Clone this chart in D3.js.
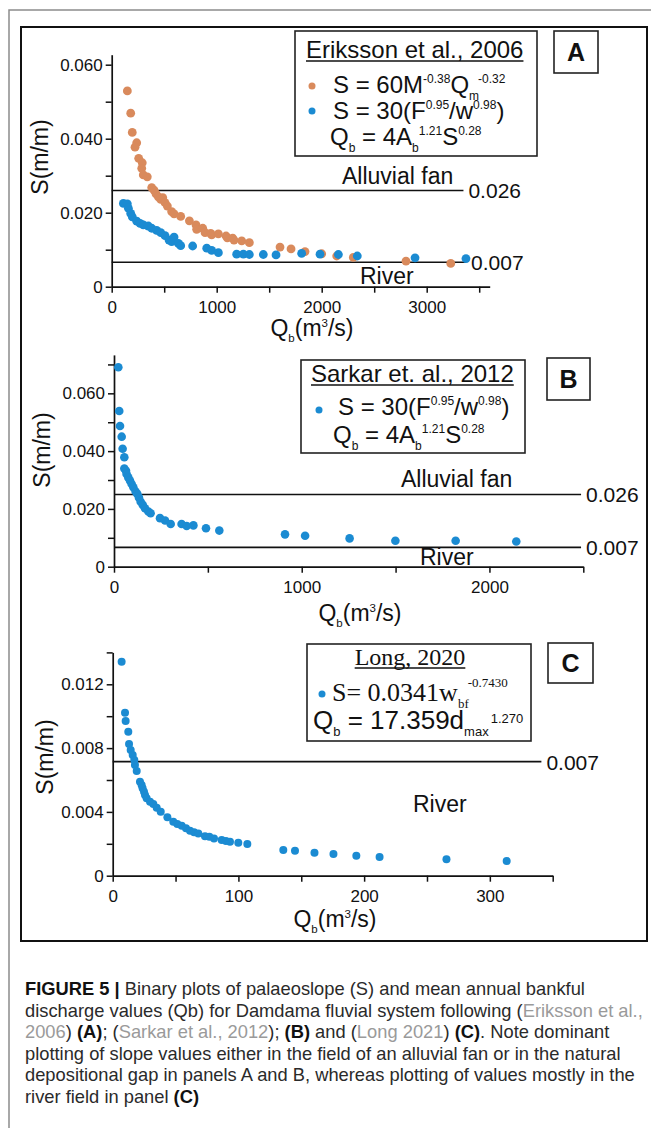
<!DOCTYPE html>
<html>
<head>
<meta charset="utf-8">
<script src="https://cdn.jsdelivr.net/npm/d3@7"></script>
<style>
body { margin: 0; background: #fff; }
svg { display: block; font-family: "Liberation Sans", Arial, sans-serif; }
text { white-space: pre; }
</style>
</head>
<body>
<svg id="fig" width="651" height="1128"></svg>
<script>
// Palaeoslope vs bankfull discharge, three panels (A, B, C) plus caption.

const ORANGE = "#d98a5c";
const BLUE = "#1b8bd2";

// Panel A: Eriksson et al., 2006  [Qb, S]
const erikssonM = [[149,.0529],[181,.0469],[196,.0417],[238,.0389],[222,.0377],[257,.0347],[291,.0335],[286,.0320],
  [301,.0302],[339,.0297],[381,.0268],[403,.0261],[422,.0251],[444,.0243],[467,.0236],[486,.0241],[508,.0227],
  [530,.0218],[571,.0203],[594,.0197],[657,.0190],[740,.0178],[803,.0167],[809,.0155],[867,.0158],[889,.0146],
  [943,.0144],[952,.0140],[1016,.0143],[1089,.0137],[1101,.0132],[1152,.0131],[1165,.0126],[1238,.0124],
  [1311,.0119],[1603,.0107],[1708,.0102],[1841,.0095],[2000,.0089],[2143,.0083],[2301,.0079],[2803,.0069],[3229,.0063]];
const erikssonF = [[111,.0225],[149,.0224],[159,.0212],[181,.0198],[196,.0189],[238,.0177],[270,.0171],[301,.0167],
  [349,.0164],[381,.0158],[428,.0152],[467,.0146],[508,.0138],[546,.0126],[571,.0122],[594,.0134],[635,.0117],
  [657,.0111],[771,.0110],[905,.0104],[952,.0098],[1016,.0092],[1190,.0088],[1254,.0088],[1311,.0087],[1444,.0087],
  [1565,.0086],[1809,.0090],[1984,.0088],[2159,.0087],[2339,.0083],[2889,.0078],[3374,.0076]];

// Panel B: Sarkar et al., 2012
const sarkar = [[23,.0690],[28,.0539],[32,.0487],[41,.0450],[46,.0408],[55,.0379],[55,.0340],[64,.0332],[67,.0321],
  [76,.0309],[85,.0298],[94,.0286],[103,.0275],[115,.0260],[124,.0252],[133,.0239],[142,.0225],[153,.0214],
  [165,.0202],[183,.0191],[195,.0185],[245,.0168],[272,.0160],[302,.0148],[360,.0148],[387,.0141],[423,.0143],
  [490,.0133],[561,.0125],[911,.0112],[1018,.0107],[1255,.0098],[1499,.0090],[1820,.0090],[2143,.0087]];

// Panel C: Long, 2020
const long2020 = [[7.1,.01342],[9.8,.01022],[10.3,.00970],[12.4,.00903],[13.0,.00826],[14.3,.00788],[15.9,.00757],
  [17.2,.00726],[17.7,.00694],[19.1,.00656],[21.7,.00589],[23.0,.00569],[23.8,.00548],[24.9,.00527],[25.7,.00506],
  [27.0,.00485],[29.7,.00464],[32.3,.00449],[35.0,.00426],[38.2,.00401],[43.5,.00366],[48.2,.00339],[51.4,.00324],
  [54.9,.00313],[58.3,.00297],[61.5,.00282],[64.7,.00272],[68.1,.00265],[73.4,.00248],[76.9,.00244],[80.6,.00234],
  [86.7,.00224],[90.1,.00218],[93.3,.00213],[99.9,.00207],[107.1,.00199],[135.7,.00161],[145,.00157],[160.5,.00144],
  [175.6,.00136],[193.8,.00125],[212.3,.00117],[265.5,.00103],[313.4,.00092]];

// ticks
const ticksAx = [0,500,1000,1500,2000,2500,3000,3500];
const labelsAx = [0,1000,2000,3000];
const ticksAy = [0,.01,.02,.03,.04,.05,.06];
const labelsAy = [0,.02,.04,.06];
const ticksBx = [0,500,1000,1500,2000,2500];
const labelsBx = [0,1000,2000];
const ticksBy = [0,.01,.02,.03,.04,.05,.06,.07];
const labelsBy = [0,.02,.04,.06];
const ticksCx = [0,50,100,150,200,250,300,350];
const labelsCx = [0,100,200,300];
const ticksCy = [0,.002,.004,.006,.008,.010,.012,.014];
const labelsCy = [0,.004,.008,.012];

// field limits [S, end Qb, label]
const limitsA = [[0.026, 3350, "0.026"], [0.0066, 3375, "0.007"]];
const limitsB = [[0.025, 2488, "0.026"], [0.0067, 2488, "0.007"]];
const limitsC = [[0.00715, 341, "0.007"]];

const svg = d3.select("#fig");

// frames
svg.append("path").attr("d", "M9,1128V10H651")
    .attr("fill", "none").attr("stroke", "#8c8c8c").attr("stroke-width", 1.5);
svg.append("rect").attr("x", 21).attr("y", 27).attr("width", 626).attr("height", 914)
    .attr("fill", "none").attr("stroke", "#111").attr("stroke-width", 2);

// Text with super/subscripts. parts: [string, "sup"|"sub"|null, dx, shift factor]
function richText (g, x, y, parts, size, family) {
    const t = g.append("text").attr("x", x).attr("y", y)
        .attr("font-size", size).attr("fill", "#111");
    if (family) t.attr("font-family", family);
    let shift = 0;
    parts.forEach(function (p) {
        let target = p[1] == "sup" ? -0.4 * size : p[1] == "sub" ? 0.28 * size : 0;
        if (p[3] !== undefined) target = p[3] * size;
        const sp = t.append("tspan").text(p[0]).attr("dy", target - shift);
        if (p[1]) sp.attr("font-size", size * 0.5);
        if (p[2]) sp.attr("dx", p[2]);
        shift = target;
    });
    return t;
}

function underline (g, t, dy) {
    const b = t.node().getBBox();
    const y = +t.attr("y") + dy;
    g.append("line").attr("x1", b.x).attr("x2", b.x + b.width)
        .attr("y1", y).attr("y2", y).attr("stroke", "#111").attr("stroke-width", 1.4);
}

function fmt (d) { return d == 0 ? "0" : d3.format(".3f")(d); }

function drawPanel (p) {
    const g = svg.append("g");
    const x = d3.scaleLinear().domain(p.xDomain).range([p.left, p.right]);
    const y = d3.scaleLinear().domain(p.yDomain).range([p.bottom, p.top]);

    // axes
    const gx = g.append("g").attr("transform", "translate(0," + p.bottom + ")")
        .call(d3.axisBottom(x).tickValues(p.xTicks).tickSize(6).tickSizeOuter(0).tickPadding(8)
            .tickFormat(d => p.xLabels.includes(d) ? d : ""));
    const gy = g.append("g").attr("transform", "translate(" + p.left + ",0)")
        .call(d3.axisLeft(y).tickValues(p.yTicks).tickSize(6).tickSizeOuter(0).tickPadding(3)
            .tickFormat(d => p.yLabels.some(v => Math.abs(v - d) < 1e-9) ? fmt(d) : ""));
    [gx, gy].forEach(function (a) {
        a.select(".domain").attr("stroke", "#111").attr("stroke-width", 1.7);
        a.selectAll(".tick line").attr("stroke", "#111").attr("stroke-width", 1.5);
        a.selectAll(".tick text").attr("font-size", 17).attr("fill", "#111")
            .attr("font-family", "Liberation Sans, Arial, sans-serif");
    });

    // field limit lines
    p.limits.forEach(function (l) {
        g.append("line").attr("x1", x(0)).attr("x2", x(l[1]))
            .attr("y1", y(l[0])).attr("y2", y(l[0]))
            .attr("stroke", "#111").attr("stroke-width", 1.6);
        g.append("text").attr("x", x(l[1]) + 5).attr("y", y(l[0]) + 8)
            .attr("font-size", 21).attr("fill", "#111").text(l[2]);
    });
    p.fields.forEach(function (f) {
        g.append("text").attr("x", f[1]).attr("y", f[2])
            .attr("font-size", 23).attr("fill", "#111").text(f[0]);
    });

    // points
    p.series.forEach(function (s) {
        g.append("g").selectAll("circle").data(s.data).join("circle")
            .attr("cx", d => x(d[0])).attr("cy", d => y(d[1]))
            .attr("r", p.r).attr("fill", s.color);
    });

    // axis titles
    richText(g, p.xTitle[0], p.xTitle[1], [["Q"], ["b", "sub"], ["(m"], ["3", "sup"], ["/s)"]], 23)
        .attr("text-anchor", "middle");
    const yt = g.append("g").attr("transform", "translate(" + p.yTitle[0] + "," + p.yTitle[1] + ") rotate(-90)");
    yt.append("text").attr("text-anchor", "middle").attr("font-size", 23).attr("fill", "#111").text("S(m/m)");

    // panel letter
    const lb = p.letterBox;
    g.append("rect").attr("x", lb[0]).attr("y", lb[1]).attr("width", lb[2]).attr("height", lb[3])
        .attr("fill", "#fff").attr("stroke", "#222").attr("stroke-width", 1.6);
    g.append("text").attr("x", lb[0] + lb[2] / 2).attr("y", lb[1] + lb[3] / 2 + 9)
        .attr("text-anchor", "middle").attr("font-size", 25).attr("font-weight", "bold")
        .attr("fill", "#111").text(p.id);

    // legend box
    const kb = p.legendBox;
    g.append("rect").attr("x", kb[0]).attr("y", kb[1]).attr("width", kb[2]).attr("height", kb[3])
        .attr("fill", "#fff").attr("stroke", "#222").attr("stroke-width", 1.6);
    return g;
}

// Panel A
const gA = drawPanel({
    id: "A", left: 111.7, right: 489.7, top: 54.7, bottom: 286.7,
    xDomain: [0, 3600], yDomain: [0, 0.0627],
    xTicks: ticksAx, xLabels: labelsAx, yTicks: ticksAy, yLabels: labelsAy,
    limits: limitsA, fields: [["Alluvial fan", 342, 184], ["River", 360, 284]],
    series: [{ data: erikssonM, color: ORANGE }, { data: erikssonF, color: BLUE }], r: 4.4,
    xTitle: [312, 336], yTitle: [48, 157],
    letterBox: [554, 31, 44, 42], legendBox: [295, 31, 242, 125]
});
underline(gA, gA.append("text").attr("x", 306).attr("y", 58).attr("font-size", 24)
    .attr("fill", "#111").text("Eriksson et al., 2006"), 3);
gA.append("circle").attr("cx", 312).attr("cy", 86).attr("r", 3.5).attr("fill", ORANGE);
richText(gA, 333, 93, [["S = 60M"], ["-0.38", "sup"], ["Q"], ["m", "sub"], ["-0.32", "sup", -1]], 24);
gA.append("circle").attr("cx", 312).attr("cy", 111).attr("r", 3.5).attr("fill", BLUE);
richText(gA, 333, 119, [["S = 30(F"], ["0.95", "sup"], ["/w"], ["0.98", "sup"], [")"]], 24);
richText(gA, 330, 145, [["Q"], ["b", "sub"], [" = 4A"], ["b", "sub"], ["1.21", "sup"], ["S"], ["0.28", "sup"]], 24);

// Panel B
const gB = drawPanel({
    id: "B", left: 114, right: 583.3, top: 354.9, bottom: 566.7,
    xDomain: [0, 2500], yDomain: [0, 0.0733],
    xTicks: ticksBx, xLabels: labelsBx, yTicks: ticksBy, yLabels: labelsBy,
    limits: limitsB, fields: [["Alluvial fan", 401, 487], ["River", 420, 565]],
    series: [{ data: sarkar, color: BLUE }], r: 4.3,
    xTitle: [360, 621], yTitle: [50, 450],
    letterBox: [547, 358, 43, 42], legendBox: [301, 360, 224, 93]
});
underline(gB, gB.append("text").attr("x", 311).attr("y", 382).attr("font-size", 24)
    .attr("fill", "#111").text("Sarkar et. al., 2012"), 3);
gB.append("circle").attr("cx", 319).attr("cy", 410).attr("r", 3.5).attr("fill", BLUE);
richText(gB, 338, 415, [["S = 30(F"], ["0.95", "sup"], ["/w"], ["0.98", "sup"], [")"]], 24);
richText(gB, 333, 443, [["Q"], ["b", "sub"], [" = 4A"], ["b", "sub"], ["1.21", "sup"], ["S"], ["0.28", "sup"]], 24);

// Panel C
const gC = drawPanel({
    id: "C", left: 112.7, right: 552.7, top: 652.4, bottom: 875.7,
    xDomain: [0, 350], yDomain: [0, 0.014],
    xTicks: ticksCx, xLabels: labelsCx, yTicks: ticksCy, yLabels: labelsCy,
    limits: limitsC, fields: [["River", 413, 812]],
    series: [{ data: long2020, color: BLUE }], r: 4.0,
    xTitle: [335, 927], yTitle: [53, 757],
    letterBox: [548, 643, 45, 40], legendBox: [307, 644, 224, 97]
});
underline(gC, gC.append("text").attr("x", 410).attr("y", 665).attr("font-size", 24)
    .attr("text-anchor", "middle").attr("font-family", "Liberation Serif, Times New Roman, serif")
    .attr("fill", "#111").text("Long, 2020"), 3);
gC.append("circle").attr("cx", 322).attr("cy", 694).attr("r", 3.5).attr("fill", BLUE);
richText(gC, 332, 701, [["S= 0.0341w"], ["bf", "sub"], ["-0.7430", "sup", -1, -0.54]], 26,
    "Liberation Serif, Times New Roman, serif");
richText(gC, 313, 729, [["Q"], ["b", "sub"], [" = 17.359d"], ["max", "sub"], ["1.270", "sup", 2, -0.23]], 26);

// Caption
const captionLines = [
    [["FIGURE 5 | ", "b"], ["Binary plots of palaeoslope (S) and mean annual bankful", ""]],
    [["discharge values (Qb) for Damdama fluvial system following (", ""], ["Eriksson et al.,", "g"]],
    [["2006", "g"], [") ", ""], ["(A)", "b"], ["; (", ""], ["Sarkar et al., 2012", "g"], ["); ", ""], ["(B)", "b"],
     [" and (", ""], ["Long 2021", "g"], [") ", ""], ["(C)", "b"], [". Note dominant", ""]],
    [["plotting of slope values either in the field of an alluvial fan or in the natural", ""]],
    [["depositional gap in panels A and B, whereas plotting of values mostly in the", ""]],
    [["river field in panel ", ""], ["(C)", "b"]]
];
const CAP_X = 25, CAP_Y = 995, CAP_LH = 21.6;
const cap = svg.append("g");
const capTexts = captionLines.map(function (line, i) {
    const t = cap.append("text").attr("font-size", 19).attr("fill", "#2a2a2a");
    line.forEach(function (s) {
        const sp = t.append("tspan").text(s[0]);
        if (s[1] == "b") sp.attr("font-weight", "bold").attr("fill", "#111");
        if (s[1] == "g") sp.attr("fill", "#9a9a9a");
    });
    return t;
});
// caption face is condensed: squeeze all lines by the same factor
const sx = 618 / capTexts[1].node().getComputedTextLength();
capTexts.forEach(function (t, i) {
    t.attr("transform", "translate(" + CAP_X + "," + (CAP_Y + i * CAP_LH) + ") scale(" + sx + ",1)");
});
</script>
</body>
</html>
